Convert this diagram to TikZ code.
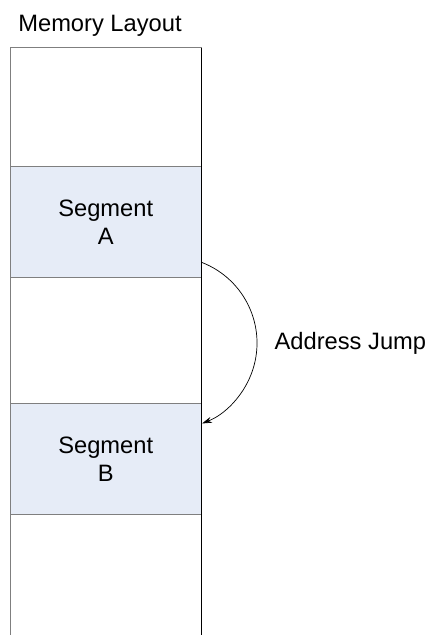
\documentclass[tikz,border=0pt]{standalone}
\usepackage{fontspec}
\setmainfont{Liberation Sans}
\usetikzlibrary{arrows.meta}
\definecolor{segfill}{HTML}{E6ECF7}
\definecolor{edgegray}{HTML}{7F7F7F}
\begin{document}
\begin{tikzpicture}[x=1pt,y=1pt,
  seg/.style={draw=edgegray, line width=1pt, fill=segfill, minimum width=191.5pt, minimum height=111.3pt, inner sep=0pt, align=center, font=\fontsize{23.7}{28.4}\selectfont},
  lbl/.style={font=\fontsize{23.7}{28.4}\selectfont, inner sep=0pt},
  grayedge/.style={draw=edgegray, line width=1pt},
  blackedge/.style={draw=black, line width=1pt},
  jumparrow/.style={draw=black, line width=0.7pt, -{Stealth[length=10pt,width=6pt]}}]
\useasboundingbox (0,0) rectangle (429,635);
\node[seg] (segA) at (105.75,412.65) {Segment\\A};
\node[seg] (segB) at (105.75,176) {Segment\\B};
\coordinate (tl) at (10,587);
\coordinate (tr) at (201.5,587);
\coordinate (bl) at (10,0);
\coordinate (br) at (201.5,0);
\draw[grayedge] (bl) -- (tl) -- (tr);
\draw[blackedge] (tr) -- (br);
\draw[jumparrow] ([yshift=16pt]segA.south east) arc[start angle=68.7, end angle=-68.7, radius=86.4];
\node[lbl, anchor=base] (title) at (100,603) {Memory Layout};
\node[lbl, anchor=base] (jump) at (350.4,285.7) {Address Jump};
\end{tikzpicture}
\end{document}
